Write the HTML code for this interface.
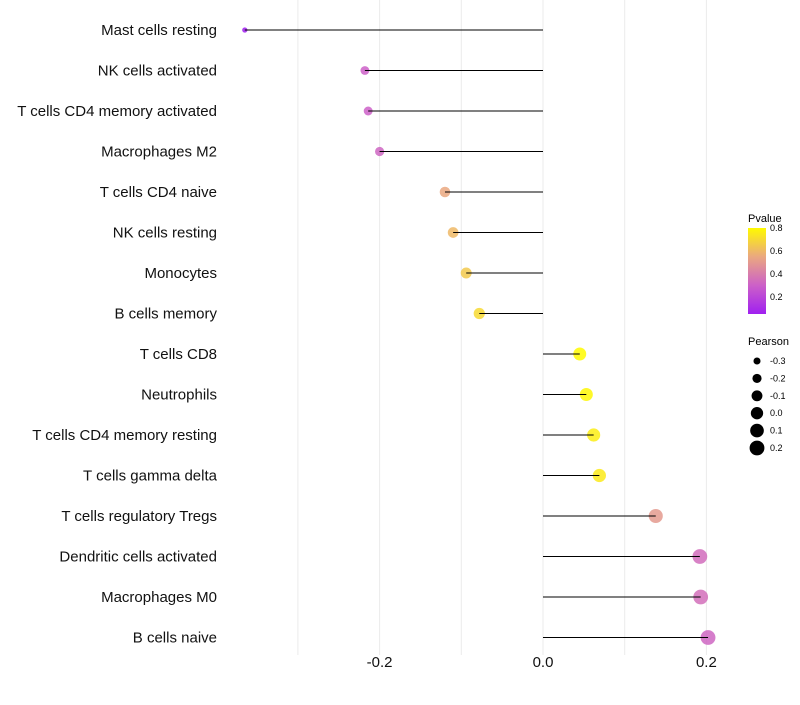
<!DOCTYPE html>
<html><head><meta charset="utf-8"><style>
body{margin:0;background:#fff;font-family:"Liberation Sans",sans-serif}
</style></head><body>
<svg id="c" width="800" height="700" xmlns="http://www.w3.org/2000/svg"></svg>
<script>
const categories=["Mast cells resting","NK cells activated","T cells CD4 memory activated","Macrophages M2","T cells CD4 naive","NK cells resting","Monocytes","B cells memory","T cells CD8","Neutrophils","T cells CD4 memory resting","T cells gamma delta","T cells regulatory  Tregs ","Dendritic cells activated","Macrophages M0","B cells naive"];
const pearson=[-0.365,-0.218,-0.214,-0.2,-0.12,-0.11,-0.094,-0.078,0.045,0.053,0.062,0.069,0.138,0.192,0.193,0.202];
const pvalue=[0.05,0.3,0.3,0.32,0.55,0.6,0.65,0.7,0.8,0.79,0.76,0.75,0.5,0.34,0.35,0.32];
const xTicks=[-0.2,0,0.2];
const gridVals=[-0.3,-0.2,-0.1,0,0.1,0.2];
const pTicks=[0.2,0.4,0.6,0.8];
const sizeTicks=[-0.3,-0.2,-0.1,0.0,0.1,0.2];
const NS="http://www.w3.org/2000/svg",svg=document.getElementById('c');
const x=v=>543+v*817, y=i=>30+i*40.5;
const rad=v=>Math.sqrt(Math.max(38+85*v,3));
const stops=[[0.05,[160,32,240]],[0.3,[204,96,200]],[0.55,[234,168,128]],[0.8,[255,250,0]]];
function col(p){p=Math.max(0.05,Math.min(0.8,p));for(let k=0;k<stops.length-1;k++){const a=stops[k],b=stops[k+1];if(p<=b[0]){const t=(p-a[0])/(b[0]-a[0]);return 'rgb('+a[1].map((c,j)=>Math.round(c+(b[1][j]-c)*t)).join(',')+')';}}return 'rgb(255,250,0)';}
function el(t,a,txt){const e=document.createElementNS(NS,t);for(const k in a)e.setAttribute(k,a[k]);if(txt!=null)e.textContent=txt;svg.appendChild(e);return e;}
gridVals.forEach(v=>{const g=el('line',{x1:x(v),x2:x(v),y1:0,y2:655,stroke:'#ebebeb','stroke-width':1});

});
xTicks.forEach(v=>{const t=el('text',{x:x(v),y:667,'text-anchor':'middle','font-size':15,fill:'#111'},v===0?'0.0':v.toFixed(1));

});
categories.forEach((c,i)=>{
const t=el('text',{x:217,y:y(i)+5,'text-anchor':'end','font-size':15,fill:'#111'},c);


const d=el('circle',{cx:x(pearson[i]),cy:y(i),r:rad(pearson[i]),fill:col(pvalue[i]),'fill-opacity':0.85});


const l=el('line',{x1:x(0),x2:x(pearson[i]),y1:y(i),y2:y(i),stroke:'#000','stroke-width':1});


});
const lt=el('text',{x:748,y:222,'font-size':11},'Pvalue');


const defs=el('defs',{});const lg=document.createElementNS(NS,'linearGradient');lg.setAttribute('id','g');lg.setAttribute('x1','0');lg.setAttribute('y1','1');lg.setAttribute('x2','0');lg.setAttribute('y2','0');
stops.forEach(s=>{const st=document.createElementNS(NS,'stop');st.setAttribute('offset',(s[0]-0.05)/0.75);st.setAttribute('stop-color',col(s[0]));lg.appendChild(st);});defs.appendChild(lg);
const bar=el('rect',{x:748,y:228,width:18,height:86,fill:'url(#g)'});


const py=p=>314-(p-0.05)*114.7;
pTicks.forEach(p=>{const t=el('text',{x:770,y:py(p)+3,'font-size':9},p.toFixed(1));

});
const st=el('text',{x:748,y:345,'font-size':11},'Pearson');


sizeTicks.forEach((v,k)=>{const yy=361+k*17.4;
const c=el('circle',{cx:757,cy:yy,r:rad(v),fill:'#000'});


const t=el('text',{x:770,y:yy+3,'font-size':9},v.toFixed(1));

});
</script>
</body></html>
